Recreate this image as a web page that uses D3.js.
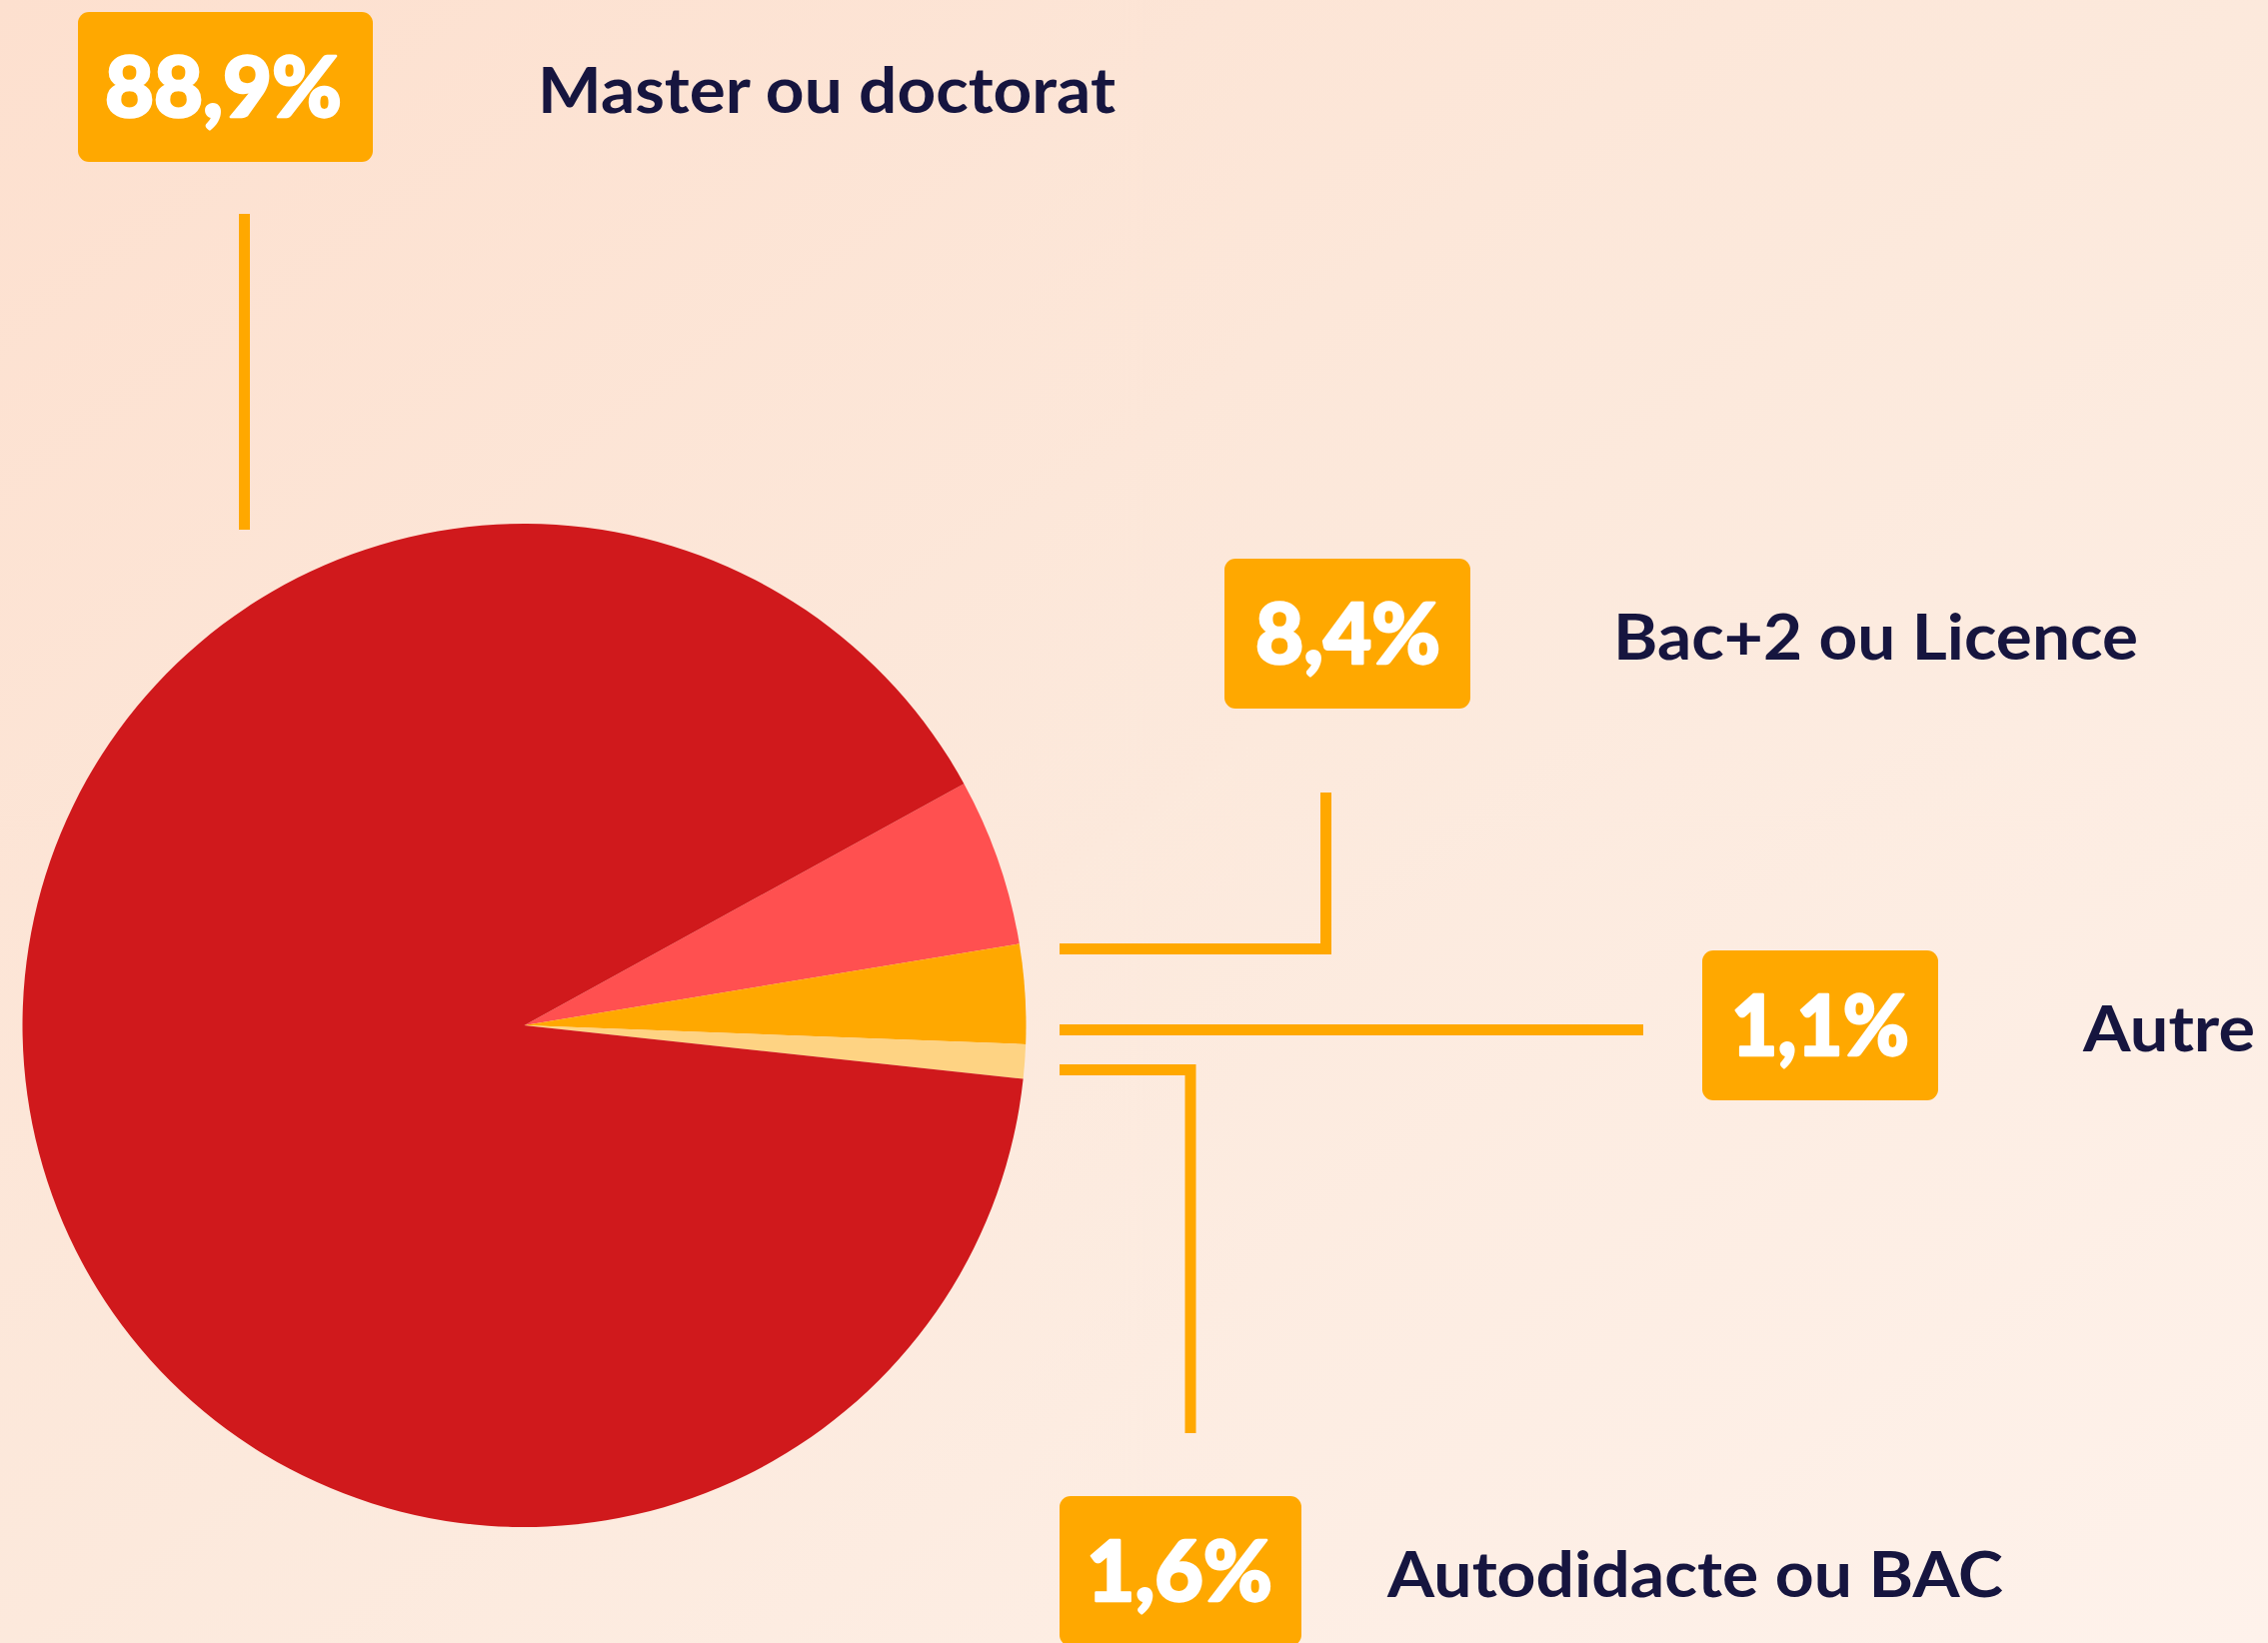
<!DOCTYPE html>
<html>
<head>
<meta charset="utf-8">
<script src="https://cdn.jsdelivr.net/npm/d3@7"></script>
<style>
  html, body { margin: 0; padding: 0; background: #fde8dc; }
  svg { display: block; }
</style>
</head>
<body>
<svg id="chart" width="2269" height="1644"></svg>
<script>
// ---- Data ----
const categories = ["Master ou doctorat", "Bac+2 ou Licence", "Autre", "Autodidacte ou BAC"];
const percentLabels = ["88,9%", "8,4%", "1,1%", "1,6%"];
// Slice shares as drawn in the picture (clockwise from the pink slice)
const sliceNames = ["Bac+2 ou Licence", "Autodidacte ou BAC", "Autre", "Master ou doctorat"];
const sliceShares = [5.4, 3.2, 1.1, 90.3];
const sliceColors = ["#ff5050", "#ffa800", "#fed383", "#d0191c"];

const W = 2269, H = 1644;
const svg = d3.select("#chart");

// Background gradient
const defs = svg.append("defs");
const bg = defs.append("linearGradient").attr("id", "bg")
  .attr("x1", "0").attr("y1", "0").attr("x2", "1").attr("y2", "1");
bg.append("stop").attr("offset", "0%").attr("stop-color", "#fde0cf");
bg.append("stop").attr("offset", "50%").attr("stop-color", "#fce9dc");
bg.append("stop").attr("offset", "100%").attr("stop-color", "#fef2eb");
svg.append("rect").attr("width", W).attr("height", H).attr("fill", "url(#bg)");

// ---- Pie ----
const cx = 524.5, cy = 1026, R = 502;
const deg = Math.PI / 180;
const pie = d3.pie().sort(null).value(d => d)
  .startAngle(61.2 * deg).endAngle(61.2 * deg + 2 * Math.PI);
const arc = d3.arc().innerRadius(0).outerRadius(R);
svg.append("g").attr("transform", `translate(${cx},${cy})`)
  .selectAll("path").data(pie(sliceShares)).join("path")
  .attr("d", arc)
  .attr("fill", (d, i) => sliceColors[i]);

// ---- Connectors ----
const lineColor = "#ffa800";
const connectors = [
  "M244.5,214 V530",
  "M1060,949.5 H1326.5 V793",
  "M1060,1030.5 H1644",
  "M1060,1070.5 H1191 V1434"
];
svg.append("g").selectAll("path").data(connectors).join("path")
  .attr("d", d => d)
  .attr("fill", "none")
  .attr("stroke", lineColor)
  .attr("stroke-width", 11)
  .attr("stroke-linejoin", "miter")
  .attr("stroke-linecap", "butt");

// ---- Label boxes ----
const boxes = [
  { x: 78, y: 12, w: 295, tx: 105, tw: 237, lx: 538, lw: 578, lb: 113 },
  { x: 1225, y: 559, w: 246, tx: 1256, tw: 185, lx: 1614, lw: 525, lb: 660 },
  { x: 1703, y: 951, w: 236, tx: 1732, tw: 178, lx: 2084, lw: 172, lb: 1052 },
  { x: 1060, y: 1497, w: 242, tx: 1087, tw: 186, lx: 1388, lw: 616, lb: 1598 }
];
const g = svg.append("g");
boxes.forEach((b, i) => {
  g.append("rect")
    .attr("x", b.x).attr("y", b.y).attr("width", b.w).attr("height", 150)
    .attr("rx", 11).attr("fill", "#ffa800");
  g.append("text")
    .attr("x", b.tx).attr("y", b.y + 105)
    .attr("textLength", b.tw).attr("lengthAdjust", "spacingAndGlyphs")
    .attr("font-family", "Lato, 'Open Sans', sans-serif")
    .attr("font-weight", 900).attr("font-size", 84)
    .attr("fill", "#ffffff")
    .attr("stroke", "#ffffff").attr("stroke-width", 2.5)
    .attr("stroke-linejoin", "round")
    .text(percentLabels[i]);
  g.append("text")
    .attr("x", b.lx).attr("y", b.lb)
    .attr("textLength", b.lw).attr("lengthAdjust", "spacingAndGlyphs")
    .attr("font-family", "Lato, 'Open Sans', sans-serif")
    .attr("font-weight", 700).attr("font-size", 64)
    .attr("fill", "#16153f")
    .text(categories[i]);
});
</script>
</body>
</html>
